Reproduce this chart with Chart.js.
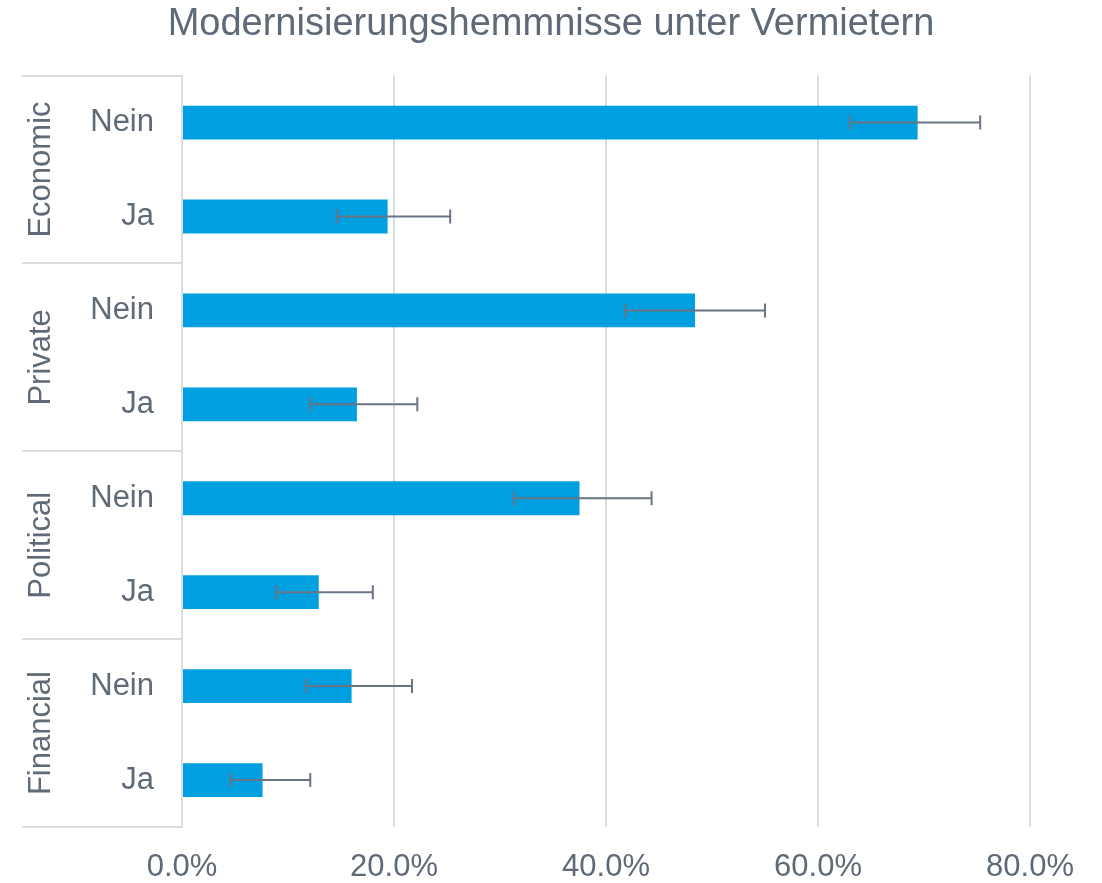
<!DOCTYPE html>
<html>
<head>
<meta charset="utf-8">
<script src="https://cdn.jsdelivr.net/npm/chart.js@4"></script>
<style>
html,body{margin:0;padding:0;background:#fff;}
#wrap{width:1102px;height:883px;}
</style>
</head>
<body>
<div id="wrap"><canvas id="c"></canvas></div>
<script>
const title = 'Modernisierungshemmnisse unter Vermietern';
const groups = ['Economic', 'Private', 'Political', 'Financial'];
const categories = ['Nein', 'Ja', 'Nein', 'Ja', 'Nein', 'Ja', 'Nein', 'Ja'];
const values = [69.4, 19.4, 48.4, 16.5, 37.5, 12.9, 16.0, 7.6];
const errLow = [63.0, 14.6, 41.8, 12.1, 31.3, 8.9, 11.7, 4.6];
const errHigh = [75.3, 25.3, 55.0, 22.2, 44.3, 18.0, 21.7, 12.1];
const xTicks = [0, 20, 40, 60, 80];

const TEXT = '#5E6A78';
const GRID = '#D9DCE1';
const BAR = '#009FE0';
const ERR = '#6A7583';
const FONT = "'Liberation Sans', Arial, sans-serif";

const errorBars = {
  id: 'errorBars',
  afterDatasetsDraw(chart) {
    const ctx = chart.ctx, x = chart.scales.x, y = chart.scales.y;
    ctx.save();
    ctx.strokeStyle = ERR;
    ctx.lineWidth = 2;
    for (let i = 0; i < values.length; i++) {
      const yc = y.getPixelForValue(i);
      const x1 = x.getPixelForValue(errLow[i]);
      const x2 = x.getPixelForValue(errHigh[i]);
      ctx.beginPath();
      ctx.moveTo(x1, yc); ctx.lineTo(x2, yc);
      ctx.moveTo(x1, yc - 7); ctx.lineTo(x1, yc + 7);
      ctx.moveTo(x2, yc - 7); ctx.lineTo(x2, yc + 7);
      ctx.stroke();
    }
    ctx.restore();
  }
};

const groupAxis = {
  id: 'groupAxis',
  afterDraw(chart) {
    const ctx = chart.ctx, y = chart.scales.y, area = chart.chartArea;
    const left = 22;
    ctx.save();
    ctx.strokeStyle = GRID;
    ctx.lineWidth = 2;
    const per = categories.length / groups.length;
    const step = y.getPixelForValue(1) - y.getPixelForValue(0);
    for (let g = 0; g <= groups.length; g++) {
      const yy = Math.round(y.getPixelForValue(g * per) - step / 2);
      ctx.beginPath();
      ctx.moveTo(left, yy); ctx.lineTo(area.left, yy);
      ctx.stroke();
    }
    ctx.fillStyle = TEXT;
    ctx.font = '31px ' + FONT;
    ctx.textAlign = 'center';
    ctx.textBaseline = 'middle';
    for (let g = 0; g < groups.length; g++) {
      const yc = (y.getPixelForValue(g * per) + y.getPixelForValue(g * per + per - 1)) / 2;
      ctx.save();
      ctx.translate(41, yc);
      ctx.rotate(-Math.PI / 2);
      ctx.fillText(groups[g], 0, 0);
      ctx.restore();
    }
    ctx.restore();
  }
};

new Chart(document.getElementById('c'), {
  type: 'bar',
  data: {
    labels: categories,
    datasets: [{
      data: values,
      backgroundColor: BAR,
      borderWidth: 0,
      categoryPercentage: 1,
      barPercentage: 0.36
    }]
  },
  plugins: [errorBars, groupAxis],
  options: {
    indexAxis: 'y',
    responsive: true,
    maintainAspectRatio: false,
    animation: false,
    layout: { padding: 0 },
    plugins: {
      legend: { display: false },
      tooltip: { enabled: false },
      title: {
        display: true,
        text: title,
        color: TEXT,
        font: { family: FONT, size: 38, weight: 'normal' },
        padding: { top: 2, bottom: 28 }
      }
    },
    scales: {
      x: {
        min: 0, max: 80,
        afterBuildTicks(s) { s.ticks = xTicks.map(v => ({ value: v })); },
        afterFit(s) { s.height = 56; s.paddingRight = 72; },
        ticks: {
          color: TEXT,
          font: { family: FONT, size: 31 },
          padding: 22,
          callback: v => v.toFixed(1) + '%'
        },
        grid: { color: GRID, lineWidth: 2, drawTicks: false },
        border: { display: false }
      },
      y: {
        afterFit(s) { s.width = 182; },
        ticks: {
          color: TEXT,
          font: { family: FONT, size: 31 },
          padding: 28
        },
        grid: { display: false, drawTicks: false },
        border: { display: true, color: GRID, width: 2 }
      }
    }
  }
});
</script>
</body>
</html>
